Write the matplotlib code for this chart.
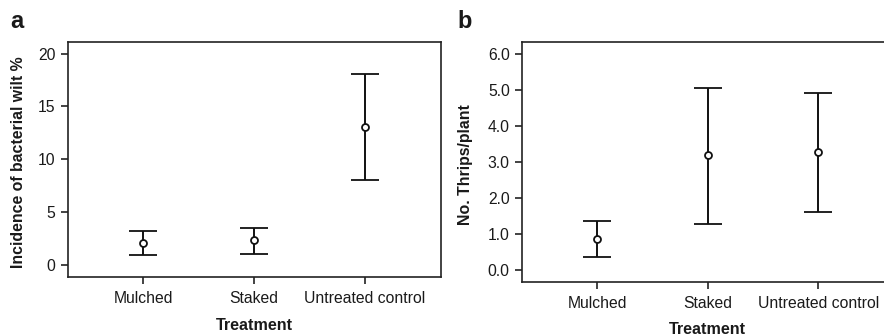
import matplotlib
matplotlib.use("Agg")
import matplotlib.pyplot as plt
import numpy as np

categories = ["Mulched", "Staked", "Untreated control"]

wilt_mean = [2.1, 2.34, 13.08]
wilt_upper = [3.25, 3.48, 18.1]
wilt_lower = [0.92, 1.04, 8.06]

thrips_mean = [0.86, 3.18, 3.27]
thrips_upper = [1.37, 5.06, 4.92]
thrips_lower = [0.36, 1.29, 1.60]

wilt_ticks = [0, 5, 10, 15, 20]
thrips_ticks = [0.0, 1.0, 2.0, 3.0, 4.0, 5.0, 6.0]

plt.rcParams['font.family'] = ['Liberation Sans', 'DejaVu Sans']
W, H = 884, 336
fig = plt.figure(figsize=(W / 100, H / 100), dpi=100)

TXT = "#1a1a1a"
LW = 1.4


def panel(ax, mean, lo, hi, ticks, fmt, ylim, ylabel, lab_x, lab_y):
    x = np.arange(len(categories))
    mean = np.array(mean)
    yerr = [mean - np.array(lo), np.array(hi) - mean]
    ax.errorbar(x, mean, yerr=yerr, fmt='o', color='#111111', ecolor='#111111',
                elinewidth=LW, capsize=10, capthick=LW, markersize=5,
                markerfacecolor='white', markeredgewidth=1.3, markeredgecolor='#111111')
    ax.set_xlim(-0.68, 2.69)
    ax.set_ylim(*ylim)
    ax.set_xticks(x)
    ax.set_xticklabels(categories)
    ax.set_yticks(ticks)
    ax.set_yticklabels([fmt.format(t) for t in ticks])
    for s in ax.spines.values():
        s.set_linewidth(1.2)
        s.set_color('#222222')
    ax.tick_params(axis='both', direction='out', length=5, width=1.2,
                   labelsize=11.3, labelcolor=TXT, color='#222222')
    ax.tick_params(axis='y', pad=4)
    ax.tick_params(axis='x', pad=5)
    ax.set_ylabel(ylabel, fontsize=11.4, fontweight='bold', color=TXT)
    ax.yaxis.set_label_coords(lab_x, 0.49)
    ax.set_xlabel("Treatment", fontsize=11.6, fontweight='bold', color=TXT)
    ax.xaxis.set_label_coords(0.499, lab_y)


axa = fig.add_axes([68 / W, 1 - 277 / H, 373 / W, 235 / H])
panel(axa, wilt_mean, wilt_lower, wilt_upper, wilt_ticks, "{:d}", (-1.13, 21.1),
      "Incidence of bacterial wilt %", -0.113, -0.176)

axb = fig.add_axes([522.3 / W, 1 - 281.7 / H, 372 / W, 240 / H])
panel(axb, thrips_mean, thrips_lower, thrips_upper, thrips_ticks, "{:.1f}", (-0.325, 6.34),
      "No. Thrips/plant", -0.132, -0.17)

fig.text(10 / W, 1 - 28 / H, "a", fontsize=17, fontweight='bold', color=TXT, va='baseline', ha='left')
fig.text(457 / W, 1 - 28 / H, "b", fontsize=17, fontweight='bold', color=TXT, va='baseline', ha='left')

fig.savefig("out.png", dpi=100)
